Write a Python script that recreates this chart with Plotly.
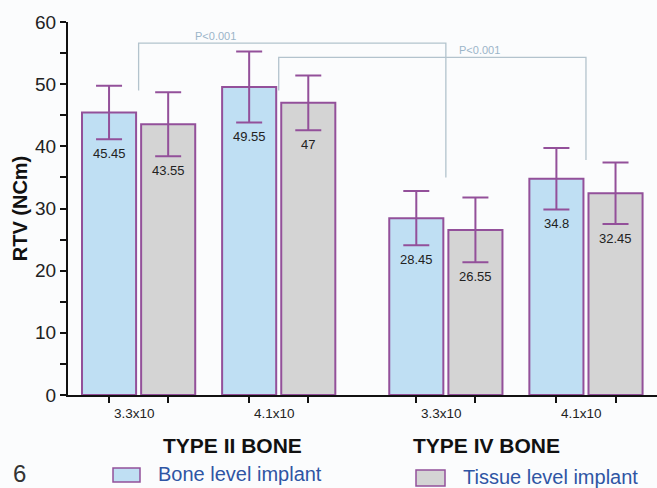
import plotly.graph_objects as go

# ---- data ----
bones = ["TYPE II BONE", "TYPE IV BONE"]
sizes = ["3.3x10", "4.1x10"]
series_names = ["Bone level implant", "Tissue level implant"]
bone_level_mean = [45.45, 49.55, 28.45, 34.8]
bone_level_sd = [4.3, 5.7, 4.35, 4.95]
tissue_level_mean = [43.55, 47.0, 26.55, 32.45]
tissue_level_sd = [5.15, 4.4, 5.2, 4.95]
bone_labels = ["45.45", "49.55", "28.45", "34.8"]
tissue_labels = ["43.55", "47", "26.55", "32.45"]
y_ticks = [0, 10, 20, 30, 40, 50, 60]
p_texts = ["P<0.001", "P<0.001"]

# ---- layout constants ----
W, H = 657, 488
L, T = 68, 22
PW, PH = 589, 373
B = H - T - PH
BONE_GAP = 2.193
OFF = 0.211
BW = 0.386
X_RANGE = [-0.504, 3.70]
FONT = "Arial, Liberation Sans, sans-serif"

def px(xp):
    return (xp - L) / PW

def py(yp):
    return (T + PH - yp) / PH

# group centres derived from bone / size index
centres = []
for b in range(len(bones)):
    for s in range(len(sizes)):
        centres.append(b * BONE_GAP + s)

purple = "#93509a"
blue_fill = "#bfdff3"
grey_fill = "#d4d4d4"

fig = go.Figure()
for name, means, sds, fill, sign in [
    (series_names[0], bone_level_mean, bone_level_sd, blue_fill, -1),
    (series_names[1], tissue_level_mean, tissue_level_sd, grey_fill, 1),
]:
    fig.add_trace(go.Bar(
        x=[c + sign * OFF for c in centres],
        y=means,
        width=BW,
        name=name,
        marker=dict(color=fill, line=dict(color=purple, width=2)),
        error_y=dict(type="data", array=sds, visible=True, color=purple,
                     thickness=2, width=13),
        showlegend=False,
    ))

annotations = []
# value labels below lower whisker
for means, sds, labels, sign in [
    (bone_level_mean, bone_level_sd, bone_labels, -1),
    (tissue_level_mean, tissue_level_sd, tissue_labels, 1),
]:
    for c, m, s, lab in zip(centres, means, sds, labels):
        annotations.append(dict(x=c + sign * OFF, y=m - s, xref="x", yref="y",
                                text=lab, showarrow=False, xanchor="center",
                                yanchor="top", yshift=-5,
                                font=dict(family=FONT, size=13, color="#222")))

# size labels under axis
for i, c in enumerate(centres):
    annotations.append(dict(x=c, y=py(413), xref="x", yref="paper",
                            text=sizes[i % len(sizes)], showarrow=False, xshift=-4,
                            xanchor="center", yanchor="middle",
                            font=dict(family=FONT, size=13.5, color="#222")))

# bone type labels
for lab, xc in zip(bones, [232, 486]):
    annotations.append(dict(x=px(xc), y=py(445), xref="paper", yref="paper",
                            text="<b>" + lab + "</b>", showarrow=False,
                            xanchor="center", yanchor="middle",
                            font=dict(family=FONT, size=21, color="#111")))

# legend
shapes = []
for name, fill, x0, x1, y0, y1, tx in [
    (series_names[0], blue_fill, 113, 140, 468, 482, 157),
    (series_names[1], grey_fill, 416, 445, 470, 486, 462),
]:
    shapes.append(dict(type="rect", xref="paper", yref="paper",
                       x0=px(x0), x1=px(x1), y0=py(y1), y1=py(y0),
                       fillcolor=fill, line=dict(color=purple, width=1.5)))
    annotations.append(dict(x=px(tx), y=py((y0 + y1) / 2 - 1), xref="paper", yref="paper",
                            text=name, showarrow=False, xanchor="left", yanchor="middle",
                            borderpad=0,
                            font=dict(family=FONT, size=20, color="#2f55a4")))

# figure number
annotations.append(dict(x=px(19), y=py(474), xref="paper", yref="paper", text="6",
                        showarrow=False, xanchor="center", yanchor="middle", borderpad=0,
                        font=dict(family=FONT, size=24, color="#333")))

# significance brackets
br_col = "#b3c3cd"
brackets = [
    # (left group, right group, top y, left bottom y, right bottom y, text x px, text y px)
    (0, 2, 56.6, 49.0, 35.0, 215, 36),
    (1, 3, 54.3, 49.0, 37.8, 479, 50),
]
for (g0, g1, ytop, yl, yr, tx, ty), ptxt in zip(brackets, p_texts):
    xa, xb = centres[g0], centres[g1]
    shapes.append(dict(type="path", xref="x", yref="y",
                       path=f"M {xa} {yl} L {xa} {ytop} L {xb} {ytop} L {xb} {yr}",
                       line=dict(color=br_col, width=1.3)))
    annotations.append(dict(x=px(tx), y=py(ty), xref="paper", yref="paper", text=ptxt,
                            showarrow=False, xanchor="center", yanchor="middle",
                            font=dict(family=FONT, size=11, color="#9bb5c9")))

tickvals_x = []
for c in centres:
    tickvals_x += [c - OFF, c + OFF]

fig.update_layout(
    width=W, height=H,
    margin=dict(l=L, r=W - L - PW, t=T, b=B, pad=0),
    paper_bgcolor="#fbfcfd", plot_bgcolor="#fbfcfd",
    barmode="overlay",
    annotations=annotations, shapes=shapes,
    xaxis=dict(range=X_RANGE, showgrid=False, zeroline=False, showline=True,
               linecolor="#111", linewidth=2, ticks="outside", ticklen=6, tickwidth=2,
               tickcolor="#111", tickvals=tickvals_x, ticktext=[""] * len(tickvals_x)),
    yaxis=dict(range=[0, 60], showgrid=False, zeroline=False, showline=True,
               linecolor="#111", linewidth=2, ticks="outside", ticklen=6, tickwidth=2,
               tickcolor="#111", tickvals=y_ticks,
               tickfont=dict(family=FONT, size=19, color="#222"),
               minor=dict(dtick=5, ticks="outside", ticklen=6, tickwidth=2, tickcolor="#111"),
               title=dict(text="<b>RTV (NCm)</b>", standoff=2,
                          font=dict(family=FONT, size=20, color="#111"))),
)

fig.write_html("out.html", config={"displayModeBar": False},
               post_script="document.body.style.margin='0';document.body.style.background='#fbfcfd';")
